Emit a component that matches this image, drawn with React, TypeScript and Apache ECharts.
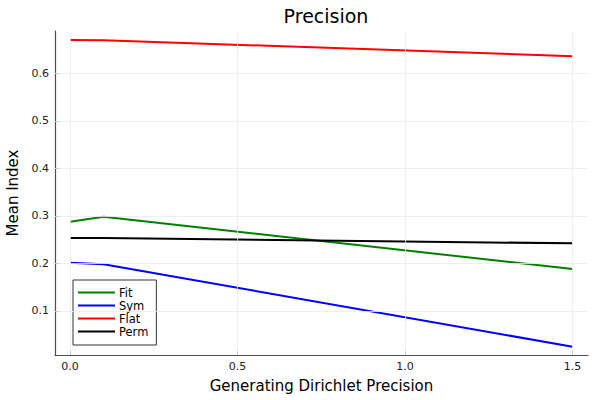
import React, { useEffect, useRef } from "react";
import * as echarts from "echarts";

const xValues = [0.0, 0.1, 1.5];
const fitValues = [0.2876, 0.298, 0.188];
const symValues = [0.2013, 0.198, 0.0244];
const flatValues = [0.670, 0.6695, 0.636];
const permValues = [0.2533, 0.2532, 0.242];
const xTicks = [0, 0.5, 1.0, 1.5];
const yTicks = [0.1, 0.2, 0.3, 0.4, 0.5, 0.6];

const seriesDefs = [
  { name: "Fit", data: fitValues, color: "#008000" },
  { name: "Sym", data: symValues, color: "#0000ff" },
  { name: "Flat", data: flatValues, color: "#ff0000" },
  { name: "Perm", data: permValues, color: "#000000" },
];

const FONT = "DejaVu Sans";

export default function App() {
  const ref = useRef<HTMLDivElement>(null);
  useEffect(() => {
    if (!ref.current) return;
    const chart = echarts.init(ref.current, undefined, { renderer: "svg" });
    const series: any[] = seriesDefs.map((s) => ({
      name: s.name,
      type: "line",
      data: xValues.map((x, i) => [x, s.data[i]]),
      symbol: "none",
      lineStyle: { color: s.color, width: 2 },
      itemStyle: { color: s.color },
      z: 3,
    }));
    series.push({
      type: "line",
      data: [],
      silent: true,
      z: 1,
      markLine: {
        silent: true,
        symbol: "none",
        label: { show: false },
        lineStyle: { color: "#ebebeb", width: 0.8, type: "solid" },
        data: [
          ...xTicks.map((v) => ({ xAxis: v })),
          ...yTicks.map((v) => ({ yAxis: v })),
        ],
      },
    });
    chart.setOption({
      animation: false,
      backgroundColor: "#ffffff",
      title: {
        text: "Precision",
        left: 321,
        textAlign: "center",
        top: 1,
        textStyle: { fontFamily: FONT, fontSize: 19, fontWeight: "normal", color: "#000" },
      },
      grid: { left: 55, right: 12, top: 31, bottom: 45, containLabel: false, outerBoundsMode: "none" },
      xAxis: {
        type: "value",
        min: -0.045,
        max: 1.546,
        name: "Generating Dirichlet Precision",
        nameLocation: "middle",
        nameGap: 23,
        nameTextStyle: { fontFamily: FONT, fontSize: 15, color: "#000" },
        axisLine: { show: true, onZero: false, lineStyle: { color: "#4d4d4d", width: 1.2 } },
        axisTick: { show: true, inside: true, length: 4, customValues: xTicks, lineStyle: { color: "#4d4d4d" } },
        axisLabel: {
          customValues: xTicks,
          formatter: (v: number) => v.toFixed(1),
          fontFamily: FONT,
          fontSize: 11,
          color: "#222",
          margin: 6,
        },
        splitLine: { show: false },
      },
      yAxis: {
        type: "value",
        min: 0.007,
        max: 0.689,
        name: "Mean Index",
        nameLocation: "middle",
        nameGap: 35,
        nameTextStyle: { fontFamily: FONT, fontSize: 15, color: "#000" },
        axisLine: { show: true, onZero: false, lineStyle: { color: "#4d4d4d", width: 1.2 } },
        axisTick: { show: true, inside: true, length: 4, customValues: yTicks, lineStyle: { color: "#4d4d4d" } },
        axisLabel: {
          customValues: yTicks,
          formatter: (v: number) => v.toFixed(1),
          fontFamily: FONT,
          fontSize: 11,
          color: "#222",
          margin: 6,
        },
        splitLine: { show: false },
      },
      legend: {
        data: seriesDefs.map((s) => s.name),
        orient: "vertical",
        left: 73,
        top: 280,
        padding: [6, 8, 7, 5],
        itemGap: 0,
        itemWidth: 37,
        itemHeight: 13,
        icon: "path://M0,5.5 L37,5.5 L37,7.5 L0,7.5 Z",
        borderColor: "#333",
        borderWidth: 1,
        backgroundColor: "#fff",
        textStyle: { fontFamily: FONT, fontSize: 11.5, color: "#000", padding: [0, 0, 0, -1], lineHeight: 13 },
      },
      series,
    });
    return () => chart.dispose();
  }, []);
  return <div ref={ref} style={{ width: 600, height: 400, position: "absolute", left: 0, top: 0 }} />;
}
